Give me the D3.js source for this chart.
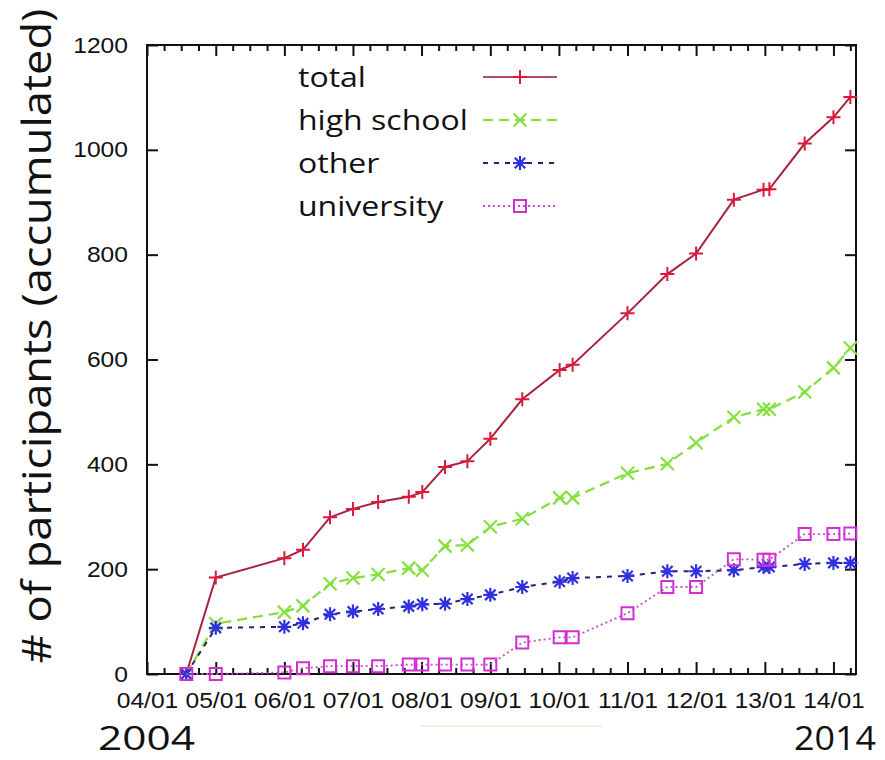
<!DOCTYPE html>
<html>
<head>
<meta charset="utf-8">
<script src="https://cdn.jsdelivr.net/npm/d3@7"></script>
<style>
  body { margin: 0; background: #fff; }
  svg { display: block; }
  .tick text { transform-box: fill-box; }
</style>
</head>
<body>
<svg id="chart" width="885" height="760"></svg>
<script>
// Observation dates and accumulated participant counts per group
const dates = ["2004-07-28","2005-01-01","2006-01-01","2006-04-10","2006-09-01","2007-01-01",
  "2007-05-15","2007-10-25","2008-01-05","2008-05-05","2008-09-01","2009-01-01","2009-06-20",
  "2010-01-05","2010-03-15","2011-01-01","2011-08-01","2012-01-01","2012-07-20","2012-12-25",
  "2013-01-25","2013-08-01","2014-01-01","2014-04-01"];
const total      = [0,184,221,237,299,315,328,338,347,395,406,449,524,580,590,688,763,802,905,924,925,1012,1062,1101];
const highSchool = [0,96,118,130,172,183,190,202,198,244,246,281,296,336,336,383,401,441,490,505,505,538,584,622];
const other      = [0,88,90,97,114,119,124,129,133,134,143,151,166,176,183,187,196,196,198,204,204,210,212,212];
const university = [0,0,3,11,15,15,15,18,18,18,18,18,60,70,70,116,166,166,219,218,218,267,267,268];
const seriesNames = ["total","high school","other","university"];
const yTicks = [0,200,400,600,800,1000,1200];
const startYear = "2004";
const endYear = "2014";

const parse = d3.timeParse("%Y-%m-%d");
const when = dates.map(parse);

const svg = d3.select("#chart");
const W = 885, H = 760;
const m = { left: 147, top: 45, right: 29, bottom: 86 };
const pw = W - m.left - m.right, ph = H - m.top - m.bottom;

const x = d3.scaleTime()
  .domain([new Date(2004, 0, 1), new Date(2014, 4, 1)])
  .range([m.left, m.left + pw]);
const y = d3.scaleLinear().domain([0, 1200]).range([m.top + ph, m.top]);

const yearTicks = d3.timeYear.range(new Date(2004, 0, 1), new Date(2014, 1, 1));
const quarterTicks = d3.timeMonth.every(3).range(new Date(2004, 0, 1), new Date(2014, 4, 1))
  .filter(d => d.getMonth() !== 0);

const axisFont = "'Liberation Sans', Arial, sans-serif";
const textFont = "'Open Sans', 'Noto Sans', sans-serif";
const tickStretch = 1.12;

// Minor (quarterly) ticks, bottom and top, pointing inward
svg.append("g").attr("transform", `translate(0,${m.top + ph})`)
  .call(d3.axisBottom(x).tickValues(quarterTicks).tickSize(-6).tickFormat(""))
  .call(g => g.select(".domain").remove());
svg.append("g").attr("transform", `translate(0,${m.top})`)
  .call(d3.axisTop(x).tickValues(quarterTicks).tickSize(-6).tickFormat(""))
  .call(g => g.select(".domain").remove());

// Major (yearly) ticks with labels
const xAxis = svg.append("g").attr("transform", `translate(0,${m.top + ph})`)
  .call(d3.axisBottom(x).tickValues(yearTicks).tickSize(-12).tickPadding(18)
    .tickFormat(d3.timeFormat("%y/%m")));
xAxis.select(".domain").remove();
xAxis.selectAll("text").attr("font-family", axisFont).attr("font-size", 22).attr("fill", "#111")
  .style("transform-origin", "center").style("transform", `scaleX(${tickStretch})`);

svg.append("g").attr("transform", `translate(0,${m.top})`)
  .call(d3.axisTop(x).tickValues(yearTicks).tickSize(-11).tickFormat(""))
  .call(g => g.select(".domain").remove());

const yAxis = svg.append("g").attr("transform", `translate(${m.left},0)`)
  .call(d3.axisLeft(y).tickValues(yTicks).tickSize(-11).tickPadding(19).tickFormat(d3.format("d")));
yAxis.select(".domain").remove();
yAxis.selectAll("text").attr("font-family", axisFont).attr("font-size", 22).attr("fill", "#111")
  .style("transform-origin", "right center").style("transform", `scaleX(${tickStretch})`);

svg.append("g").attr("transform", `translate(${m.left + pw},0)`)
  .call(d3.axisRight(y).tickValues(yTicks).tickSize(-11).tickFormat(""))
  .call(g => g.select(".domain").remove());

svg.selectAll(".tick line").attr("stroke", "#111").attr("stroke-width", 2);

// Plot frame
svg.append("rect")
  .attr("x", m.left).attr("y", m.top).attr("width", pw).attr("height", ph)
  .attr("fill", "none").attr("stroke", "#111").attr("stroke-width", 2);

// Point symbols
const symbols = {
  plus: s => `M${-s},0H${s}M0,${-s}V${s}`,
  cross: s => `M${-s},${-s}L${s},${s}M${-s},${s}L${s},${-s}`,
  star: s => `M${-s},0H${s}M0,${-s}V${s}M${-s*0.75},${-s*0.75}L${s*0.75},${s*0.75}M${-s*0.75},${s*0.75}L${s*0.75},${-s*0.75}`,
  square: s => `M${-s},${-s}H${s}V${s}H${-s}Z`
};

const styles = [
  { values: total,      line: "#a8233d", dash: null,   lw: 2,   mark: "#e0173a", sym: "plus",   size: 7,  mw: 2 },
  { values: highSchool, line: "#86dc3c", dash: "10,6", lw: 2.2, mark: "#86e040", sym: "cross",  size: 6.5, mw: 2.2 },
  { values: other,      line: "#23236e", dash: "5,6",  lw: 2,   mark: "#3030e0", sym: "star",   size: 7,  mw: 2.2 },
  { values: university, line: "#c050c8", dash: "2,3",  lw: 1.8, mark: "#d22fd2", sym: "square", size: 6,  mw: 2 }
];

const line = d3.line().x((d, i) => x(when[i])).y(d => y(d));

styles.forEach(st => {
  const g = svg.append("g");
  g.append("path").datum(st.values)
    .attr("d", line)
    .attr("fill", "none").attr("stroke", st.line).attr("stroke-width", st.lw)
    .attr("stroke-dasharray", st.dash);
  g.selectAll("path.pt").data(st.values).join("path").attr("class", "pt")
    .attr("transform", (d, i) => `translate(${x(when[i])},${y(d)})`)
    .attr("d", symbols[st.sym](st.size))
    .attr("fill", "none").attr("stroke", st.mark).attr("stroke-width", st.mw);
});

// Legend
const legend = svg.append("g");
const legendY0 = 77, legendStep = 43;
const legendText = legend.selectAll("text").data(seriesNames).join("text")
  .attr("x", 298).attr("y", (d, i) => legendY0 + i * legendStep + 10)
  .attr("font-family", textFont).attr("font-size", 27).attr("fill", "#111")
  .text(d => d);
// widen legend labels to the drawn proportions
const hsNode = legendText.filter(d => d === "high school").node();
const legendScale = 170 / hsNode.getComputedTextLength();
legendText.attr("transform", `translate(298,0) scale(${legendScale},1) translate(-298,0)`);

styles.forEach((st, i) => {
  const ly = legendY0 + i * legendStep;
  legend.append("line").attr("x1", 483).attr("x2", 557).attr("y1", ly).attr("y2", ly)
    .attr("stroke", i === 0 ? "#b04a68" : st.line).attr("stroke-width", i === 0 ? 2 : st.lw)
    .attr("stroke-dasharray", st.dash);
  legend.append("path").attr("transform", `translate(520,${ly})`)
    .attr("d", symbols[st.sym](st.size))
    .attr("fill", "none").attr("stroke", st.mark).attr("stroke-width", st.mw);
});

// Axis title
const title = svg.append("text")
  .attr("font-family", textFont).attr("font-size", 40).attr("fill", "#111")
  .attr("text-anchor", "middle")
  .text("# of participants (accumulated)");
const titleScale = 655 / title.node().getComputedTextLength();
title.attr("transform", `translate(51,336) rotate(-90) scale(${titleScale},1)`);

// Year span labels
function yearLabel(txt, xPos, anchor, width) {
  const t = svg.append("text").attr("font-family", textFont).attr("font-size", 33)
    .attr("fill", "#111").attr("text-anchor", anchor).text(txt);
  const s = width / t.node().getComputedTextLength();
  t.attr("transform", `translate(${xPos},750) scale(${s},1)`);
}
yearLabel(startYear, 98, "start", 97);
yearLabel(endYear, 876, "end", 82);

// faint rule below the axis
svg.append("line").attr("x1", 420).attr("x2", 602).attr("y1", 726).attr("y2", 726)
  .attr("stroke", "#f2f0dc").attr("stroke-width", 2);
</script>
</body>
</html>
